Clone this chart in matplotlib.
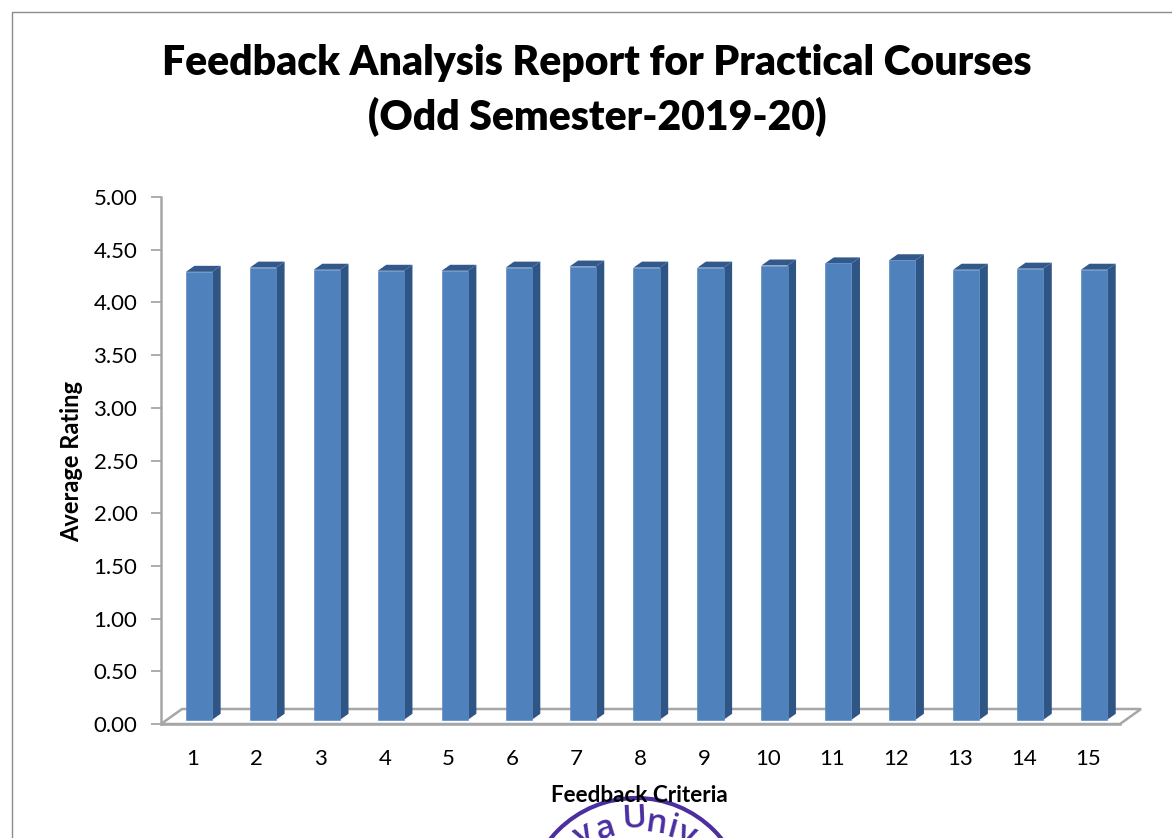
import matplotlib
matplotlib.use('Agg')
import matplotlib.pyplot as plt
from matplotlib.patches import Polygon, Rectangle, Circle

plt.rcParams['font.family'] = ['Lato', 'DejaVu Sans']

criteria = list(range(1, 16))
ratings = [4.25, 4.29, 4.27, 4.26, 4.26, 4.29, 4.30, 4.29, 4.29, 4.31, 4.33, 4.36, 4.27, 4.28, 4.27]
y_ticks = [0, 0.5, 1, 1.5, 2, 2.5, 3, 3.5, 4, 4.5, 5]
stamp_letters = ['y', 'a', 'U', 'n', 'i', 'v']

W, H = 1172, 838
fig = plt.figure(figsize=(W / 100, H / 100), dpi=100)

# background layer in pixel coords, for the frame and the stamp
bg = fig.add_axes([0, 0, 1, 1], zorder=3)
bg.set_xlim(0, W)
bg.set_ylim(H, 0)
bg.axis('off')
bg.patch.set_alpha(0)
bg.add_patch(Rectangle((12, 12), W + 20, H + 20, fill=False, ec='#8c8c8c', lw=1))

# stamp at the bottom
purple = '#4b2ea0'
bg.add_patch(Circle((636, 908), 110, fill=False, ec=purple, lw=3))
stamp_x = [584, 605, 634, 656, 672, 686]
stamp_y = [835, 829, 819, 824, 829, 835]
stamp_rot = [28, 17, 3, -8, -15, -22]
for ch, sx, sy, r in zip(stamp_letters, stamp_x, stamp_y, stamp_rot):
    bg.text(sx, sy, ch, color=purple, fontsize=24, rotation=r, ha='center', va='center',
            family='Open Sans', fontweight='semibold')

x0, x1, ytop, ybot = 161, 1120, 197, 724
ax = fig.add_axes([x0 / W, 1 - ybot / H, (x1 - x0) / W, (ybot - ytop) / H])
ax.set_xlim(0.5, 15.5)
ax.set_ylim(0, 5)
ax.patch.set_alpha(0)

# depth of the 3D look, in data units
dx = 8.5 / 63.9
dy = 6 / 105.4
floor_dx = 21 / 63.9
floor_dy = 15 / 105.4
gray = '#a6a6a6'

# floor outline
ax.add_patch(Polygon([(0.5, 0), (0.5 + floor_dx, floor_dy), (15.5 + floor_dx, floor_dy), (15.5, 0)],
                     closed=True, fill=False, ec=gray, lw=1.8, clip_on=False, zorder=1))

base = 0.04
width = 0.41
shift = 0.095
for c, v in zip(criteria, ratings):
    l = c + shift - width / 2
    r = c + shift + width / 2
    top = v + base
    ax.add_patch(Polygon([(r, base), (r + dx, base + dy), (r + dx, top + dy), (r, top)],
                         closed=True, fc='#2f5585', ec='none', clip_on=False, zorder=2))
    ax.add_patch(Polygon([(l, top), (l + dx, top + dy), (r + dx, top + dy), (r, top)],
                         closed=True, fc='#33598c', ec='none', clip_on=False, zorder=2))
ax.bar([c + shift for c in criteria], ratings, bottom=base, width=width,
       color='#4f81bd', edgecolor='#5b8cc6', linewidth=0.5, zorder=3)

for s in ['top', 'right']:
    ax.spines[s].set_visible(False)
for s in ['left', 'bottom']:
    ax.spines[s].set_color(gray)
    ax.spines[s].set_linewidth(1.8)

ax.set_xticks(criteria)
ax.set_yticks(y_ticks)
ax.set_yticklabels(['%.2f' % t for t in y_ticks])
ax.tick_params(axis='x', length=0, pad=18, labelsize=16)
ax.tick_params(axis='y', length=7, width=1.3, color=gray, pad=10, labelsize=16)

fig.text(597 / W, 1 - 63 / H, 'Feedback Analysis Report for Practical Courses', fontsize=29.4, fontweight='heavy',
         ha='center', va='center')
fig.text(597 / W, 1 - 117 / H, '(Odd Semester-2019-20)', fontsize=29.4, fontweight='heavy', ha='center', va='center')
fig.text(72 / W, 1 - 461 / H, 'Average Rating', fontsize=17, fontweight='bold', rotation=90, ha='center', va='center')
fig.text(639 / W, 1 - 795 / H, 'Feedback Criteria', fontsize=16.2, fontweight='bold', ha='center', va='center')

fig.savefig('out.png', dpi=100)
